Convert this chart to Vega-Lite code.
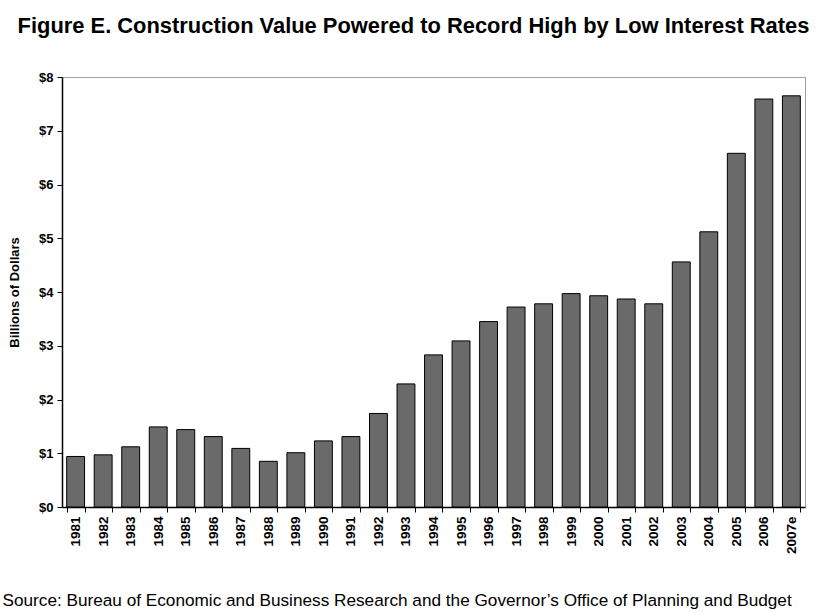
{
  "$schema": "https://vega.github.io/schema/vega-lite/v6.json",
  "width": 743,
  "height": 430,
  "autosize": {"type": "none"},
  "padding": {"left": 62, "top": 77, "right": 14, "bottom": 106},
  "background": "white",
  "title": {
    "text": "Figure E.  Construction Value Powered to Record High by Low Interest Rates",
    "font": "Liberation Sans Narrow, Arial Narrow, Liberation Sans",
    "fontSize": 21.9,
    "fontWeight": "bold",
    "color": "#000000",
    "anchor": "middle",
    "dx": -20,
    "dy": 3,
    "offset": 36
  },
  "config": {
    "view": {"stroke": "#a0a0a0", "strokeWidth": 1},
    "axis": {"grid": false}
  },
  "data": {
    "values": [
      {"year": "1981", "value": 0.94},
      {"year": "1982", "value": 0.97},
      {"year": "1983", "value": 1.12},
      {"year": "1984", "value": 1.49},
      {"year": "1985", "value": 1.44},
      {"year": "1986", "value": 1.31},
      {"year": "1987", "value": 1.09},
      {"year": "1988", "value": 0.85},
      {"year": "1989", "value": 1.01},
      {"year": "1990", "value": 1.23},
      {"year": "1991", "value": 1.31},
      {"year": "1992", "value": 1.74},
      {"year": "1993", "value": 2.29},
      {"year": "1994", "value": 2.83},
      {"year": "1995", "value": 3.09},
      {"year": "1996", "value": 3.45},
      {"year": "1997", "value": 3.72},
      {"year": "1998", "value": 3.78},
      {"year": "1999", "value": 3.97},
      {"year": "2000", "value": 3.93},
      {"year": "2001", "value": 3.87},
      {"year": "2002", "value": 3.78},
      {"year": "2003", "value": 4.56},
      {"year": "2004", "value": 5.12},
      {"year": "2005", "value": 6.58},
      {"year": "2006", "value": 7.59},
      {"year": "2007e", "value": 7.65}
    ]
  },
  "mark": {"type": "bar", "fill": "#6a6a6a", "stroke": "#000000", "strokeWidth": 1},
  "encoding": {
    "x": {
      "field": "year",
      "type": "nominal",
      "sort": null,
      "scale": {"paddingInner": 0.35, "paddingOuter": 0.17},
      "axis": {
        "title": "Source: Bureau of Economic and Business Research and the Governor\u2019s Office of Planning and Budget",
        "titleFont": "Liberation Sans Narrow, Arial Narrow, Liberation Sans",
        "titleFontSize": 17.2,
        "titleFontWeight": "normal",
        "titleColor": "#000000",
        "titleAnchor": "start",
        "titleAlign": "left",
        "titleBaseline": "alphabetic",
        "titleX": -60,
        "titleY": 98,
        "labelAngle": 270,
        "labelAlign": "right",
        "labelBaseline": "middle",
        "labelFont": "Liberation Sans, Arial",
        "labelFontSize": 13.5,
        "labelFontWeight": "bold",
        "labelColor": "#000000",
        "labelPadding": 4,
        "domainColor": "#000000",
        "domainWidth": 1.5,
        "tickColor": "#000000",
        "tickSize": 5,
        "tickBand": "extent"
      }
    },
    "y": {
      "field": "value",
      "type": "quantitative",
      "scale": {"domain": [0, 8], "nice": false},
      "axis": {
        "title": "Billions of Dollars",
        "titleFont": "Liberation Sans, Arial",
        "titleFontSize": 13,
        "titleFontWeight": "bold",
        "titleColor": "#000000",
        "titlePadding": 17,
        "values": [0, 1, 2, 3, 4, 5, 6, 7, 8],
        "format": "$,.0f",
        "labelFont": "Liberation Sans, Arial",
        "labelFontSize": 13,
        "labelFontWeight": "bold",
        "labelColor": "#000000",
        "labelPadding": 4,
        "domainColor": "#000000",
        "domainWidth": 1.5,
        "tickColor": "#000000",
        "tickSize": 5
      }
    }
  }
}
